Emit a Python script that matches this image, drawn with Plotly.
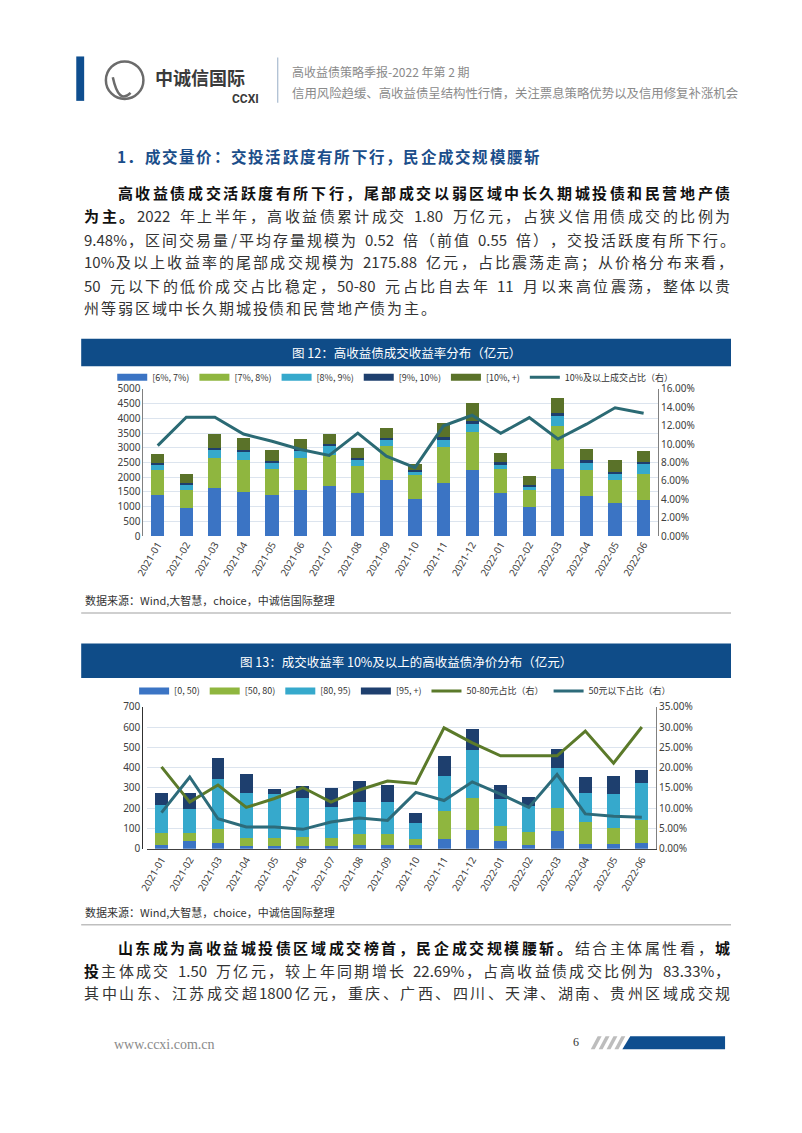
import plotly.graph_objects as go

W, H = 802, 1133
OFF = 8  # the page body keeps its default 8px margin, so the figure is drawn 8px up/left to compensate

months = ["2021-01", "2021-02", "2021-03", "2021-04", "2021-05", "2021-06", "2021-07", "2021-08", "2021-09",
          "2021-10", "2021-11", "2021-12", "2022-01", "2022-02", "2022-03", "2022-04", "2022-05", "2022-06"]

# Chart 12: trade volume by yield bucket (亿元)
c1_6_7 = [1380, 950, 1620, 1490, 1410, 1570, 1710, 1450, 1900, 1275, 1820, 2240, 1480, 975, 2270, 1365, 1140, 1210]
c1_7_8 = [860, 615, 1040, 1085, 885, 1070, 1040, 930, 1150, 785, 1200, 1285, 815, 590, 1455, 895, 760, 915]
c1_8_9 = [200, 170, 270, 270, 190, 260, 320, 190, 210, 145, 245, 280, 145, 110, 370, 225, 200, 315]
c1_9_10 = [60, 75, 70, 90, 65, 50, 60, 70, 70, 55, 90, 90, 65, 65, 100, 90, 90, 80]
c1_10p = [300, 290, 470, 415, 380, 360, 330, 350, 330, 180, 480, 615, 335, 290, 515, 370, 390, 380]
c1_share = [9.84, 12.92, 12.92, 11.10, 10.31, 9.41, 8.77, 11.20, 8.70, 7.45, 11.99, 13.14, 11.17, 12.89, 10.56, 12.17, 13.96, 13.35]

# Chart 13: clean-price distribution of >=10% yield trades (亿元)
c2_0_50 = [20, 40, 27, 16, 15, 15, 15, 19, 19, 19, 48, 95, 39, 19, 87, 26, 23, 27]
c2_50_80 = [56, 36, 73, 39, 37, 45, 37, 52, 52, 29, 138, 153, 72, 62, 115, 106, 80, 117]
c2_80_95 = [140, 121, 244, 219, 217, 192, 153, 161, 161, 78, 175, 239, 134, 132, 195, 145, 166, 179]
c2_95p = [58, 76, 103, 95, 28, 56, 95, 100, 83, 51, 94, 102, 70, 43, 95, 79, 92, 64]
c2_share_50_80 = [20.2, 11.5, 15.7, 10.2, 12.4, 15.1, 11.5, 14.5, 16.7, 16.1, 29.8, 26.1, 22.9, 22.9, 22.9, 29.0, 21.1, 30.0]
c2_share_0_50 = [8.9, 17.7, 7.4, 5.4, 5.4, 4.8, 6.6, 7.6, 7.0, 13.9, 11.9, 16.5, 13.5, 10.2, 18.3, 8.6, 8.0, 7.8]

c1_names = ["[6%, 7%)", "[7%, 8%)", "[8%, 9%)", "[9%, 10%)", "[10%, +)"]
c1_line_name = "10%及以上成交占比（右）"
c2_names = ["[0, 50)", "[50, 80)", "[80, 95)", "[95, +)"]
c2_line_names = ["50-80元占比（右）", "50元以下占比（右）"]

BLUE, GREEN, CYAN, NAVY, OLIVE = "#3B74C4", "#8FB63F", "#36A9CC", "#1E3F6E", "#5A7229"
TEAL = "#2B6A74"
TITLEBLUE = "#0F4C88"
GRID = "#DCE4EE"
CJK = "Noto Sans CJK SC"
LAT = "Noto Sans, Noto Sans CJK SC"

def px(x):
    return (x - OFF) / W

def py(y):
    return 1 - (y - OFF) / H

fig = go.Figure()

for vals, name, col in zip([c1_6_7, c1_7_8, c1_8_9, c1_9_10, c1_10p], c1_names, [BLUE, GREEN, CYAN, NAVY, OLIVE]):
    fig.add_trace(go.Bar(x=months, y=vals, name=name, marker=dict(color=col, line=dict(width=0)),
                         xaxis="x", yaxis="y", showlegend=False, legendgroup=name))
    fig.add_trace(go.Scatter(x=[None], y=[None], name=name, mode="lines", line=dict(color=col, width=7),
                             xaxis="x", yaxis="y", legend="legend", legendgroup=name))
fig.add_trace(go.Scatter(x=months, y=[v / 100 for v in c1_share], name=c1_line_name, mode="lines",
                         line=dict(color=TEAL, width=3), xaxis="x", yaxis="y2", legend="legend"))

for vals, name, col in zip([c2_0_50, c2_50_80, c2_80_95, c2_95p], c2_names, [BLUE, GREEN, CYAN, NAVY]):
    fig.add_trace(go.Bar(x=months, y=vals, name=name, marker=dict(color=col, line=dict(width=0)),
                         xaxis="x2", yaxis="y3", showlegend=False, legendgroup="b" + name))
    fig.add_trace(go.Scatter(x=[None], y=[None], name=name, mode="lines", line=dict(color=col, width=7),
                             xaxis="x2", yaxis="y3", legend="legend2", legendgroup="b" + name))
fig.add_trace(go.Scatter(x=months, y=[v / 100 for v in c2_share_50_80], name=c2_line_names[0], mode="lines",
                         line=dict(color="#5B7A2A", width=3), xaxis="x2", yaxis="y4", legend="legend2"))
fig.add_trace(go.Scatter(x=months, y=[v / 100 for v in c2_share_0_50], name=c2_line_names[1], mode="lines",
                         line=dict(color="#2D6B7A", width=3), xaxis="x2", yaxis="y4", legend="legend2"))

tickfont = dict(family=LAT, size=10, color="#404040")
xax = dict(type="category", tickangle=-60, tickfont=tickfont, showgrid=False, ticks="",
           zeroline=False, categoryorder="array", categoryarray=months)
fig.update_layout(
    width=W, height=H, margin=dict(l=0, r=0, t=0, b=0),
    paper_bgcolor="white", plot_bgcolor="white",
    barmode="stack", bargap=0.54,
    xaxis=dict(domain=[px(135), px(656)], anchor="y", showline=False, **xax),
    yaxis=dict(domain=[py(535), py(386)], range=[0, 5000], dtick=500, tickfont=tickfont,
               showgrid=True, gridcolor=GRID, showline=True, linecolor="#808080", zeroline=False, ticks=""),
    yaxis2=dict(overlaying="y", side="right", anchor="x", range=[0, 0.16], dtick=0.02, tickformat=".2%",
                tickfont=tickfont, showgrid=False, showline=True, linecolor="#808080", zeroline=False),
    xaxis2=dict(domain=[px(139), px(654)], anchor="y3", showline=True, linecolor="#404040", linewidth=1.2, **xax),
    yaxis3=dict(domain=[py(852), py(708)], range=[0, 700], dtick=100, tickfont=tickfont,
                showgrid=True, gridcolor=GRID, showline=True, linecolor="#303030", linewidth=1.2, zeroline=False),
    yaxis4=dict(overlaying="y3", side="right", anchor="x2", range=[0, 0.35], dtick=0.05, tickformat=".2%",
                tickfont=tickfont, showgrid=False, showline=True, linecolor="#808080", zeroline=False),
    legend=dict(orientation="h", x=px(390), xanchor="center", y=py(374), yanchor="middle",
                font=dict(family=CJK, size=9, color="#333333"), itemwidth=30, traceorder="normal",
                bgcolor="rgba(0,0,0,0)"),
    legend2=dict(orientation="h", x=px(400), xanchor="center", y=py(692), yanchor="middle",
                 font=dict(family=CJK, size=9, color="#333333"), itemwidth=30, traceorder="normal",
                 bgcolor="rgba(0,0,0,0)"),
)

shapes = []
ann = []

def rect(x0, y0, x1, y1, color, line=None):
    shapes.append(dict(type="rect", xref="paper", yref="paper", x0=px(x0), x1=px(x1), y0=py(y1), y1=py(y0),
                       fillcolor=color, line=dict(width=0) if line is None else line, layer="below"))

def hline(x0, x1, y, color, width=1):
    shapes.append(dict(type="line", xref="paper", yref="paper", x0=px(x0), x1=px(x1), y0=py(y), y1=py(y),
                       line=dict(color=color, width=width)))

def text(x, y, s, size=12, color="#333", family=CJK, xanchor="left", bold=False):
    ann.append(dict(xref="paper", yref="paper", x=px(x), y=py(y), text=("<b>%s</b>" % s) if bold else s,
                    showarrow=False, xanchor=xanchor, yanchor="middle",
                    font=dict(family=family, size=size, color=color), borderpad=0))

def cw(ch):
    o = ord(ch)
    if o > 0x2E80 or ch in "（），。；：、":
        return 1.0
    if ch.isdigit():
        return 0.56
    if ch in ".,":
        return 0.28
    if ch == "%":
        return 0.86
    if ch == "/":
        return 0.40
    if ch == "-":
        return 0.36
    if ch == " ":
        return 0.30
    return 0.55

def tokens(segs):
    out = []
    for s, b in segs:
        run = ""
        for ch in s:
            if ord(ch) < 128 and ch != " ":
                run += ch
                continue
            if run:
                out.append((run, b))
                run = ""
            out.append((ch, b))
        if run:
            out.append((run, b))
    return out

def line(segs, x0, y, x1=None, gap=None, size=15, color="#333333", bcolor="#111111"):
    toks = tokens(segs)
    widths = [sum(cw(c) for c in t) * size for t, _ in toks]
    if gap is None:
        gap = ((x1 - x0) - sum(widths)) / max(1, len(toks) - 1)
    x = x0
    for (t, b), w in zip(toks, widths):
        if t != " ":
            text(x, y, t, size=size, color=bcolor if b else color, bold=b)
        x += w + gap
    return gap

# ---------- header ----------
rect(67, 49, 75, 94, "#0E4E8F")
shapes.append(dict(type="circle", xref="paper", yref="paper", x0=px(97), x1=px(135), y0=py(92), y1=py(54),
                   line=dict(color="#6b6b6b", width=2.5)))
shapes.append(dict(type="path", xref="paper", yref="paper",
                   path="M %f %f Q %f %f %f %f" % (px(104), py(70), px(110), py(98), px(122), py(86)),
                   line=dict(color="#6b6b6b", width=2.5)))
text(146, 70, "中诚信国际", size=18, color="#3a3a3a", bold=True)
text(253, 92, "CCXI", size=12, color="#3a3a3a", xanchor="right", bold=True, family="Roboto")
shapes.append(dict(type="line", xref="paper", yref="paper", x0=px(271), x1=px(271), y0=py(50), y1=py(96),
                   line=dict(color="#A9BCD0", width=1.2)))
text(284, 64, "高收益债策略季报-2022 年第 2 期", size=12, color="#8a8a8a")
text(284, 86, "信用风险趋缓、高收益债呈结构性行情，关注票息策略优势以及信用修复补涨机会", size=12.4, color="#8a8a8a")

# ---------- heading & paragraph 1 ----------
line([("1．成交量价：交投活跃度有所下行，民企成交规模腰斩", True)], 107, 150, x1=535, size=15.5,
     bcolor="#1B4E8A")
line([("高收益债成交活跃度有所下行，尾部成交以弱区域中长久期城投债和民营地产债", True)], 108, 187, x1=728)
line([("为主。", True), ("2022 年上半年，高收益债累计成交 1.80 万亿元，占狭义信用债成交的比例为", False)], 74, 210, x1=728)
line([("9.48%，区间交易量/平均存量规模为 0.52 倍（前值 0.55 倍），交投活跃度有所下行。", False)], 74, 234, x1=733)
line([("10%及以上收益率的尾部成交规模为 2175.88 亿元，占比震荡走高；从价格分布来看，", False)], 74, 257, x1=731)
line([("50 元以下的低价成交占比稳定，50-80 元占比自去年 11 月以来高位震荡，整体以贵", False)], 74, 281, x1=728)
line([("州等弱区域中长久期城投债和民营地产债为主。", False)], 74, 303, x1=430)

# ---------- chart frames ----------
rect(72, 335, 730, 363, TITLEBLUE)
text(401, 349, "图 12：高收益债成交收益率分布（亿元）", size=12.5, color="white", xanchor="center")
text(75, 600, "数据来源：Wind,大智慧，choice，中诚信国际整理", size=11, color="#333333")
hline(72, 730, 613, "#BFBFBF", 1.5)

rect(72, 644, 730, 679, TITLEBLUE)
text(401, 662, "图 13：成交收益率 10%及以上的高收益债净价分布（亿元）", size=12.5, color="white", xanchor="center")
text(75, 916, "数据来源：Wind,大智慧，choice，中诚信国际整理", size=11, color="#333333")
hline(72, 730, 929, "#BFBFBF", 1.5)

# ---------- paragraph 2 ----------
line([("山东成为高收益城投债区域成交榜首，民企成交规模腰斩。", True), ("结合主体属性看，", False), ("城", True)],
     108, 952, x1=728)
line([("投", True), ("主体成交 1.50 万亿元，较上年同期增长 22.69%，占高收益债成交比例为 83.33%，", False)],
     74, 975, x1=728)
line([("其中山东、江苏成交超1800亿元，重庆、广西、四川、天津、湖南、贵州区域成交规", False)], 74, 998, x1=728)

# ---------- footer ----------
text(104, 1050, "www.ccxi.com.cn", size=14, color="#8a8a8a", family="Liberation Serif")
text(573, 1048, "6", size=12, color="#333333", family="Liberation Serif", xanchor="center")
for i in range(4):
    xs = 588 + i * 8
    shapes.append(dict(type="path", xref="paper", yref="paper",
                       path="M %f %f L %f %f L %f %f L %f %f Z" % (px(xs), py(1055), px(xs + 4), py(1055),
                                                                  px(xs + 11), py(1042), px(xs + 7), py(1042)),
                       fillcolor="#BDBDBD", line=dict(width=0)))
shapes.append(dict(type="path", xref="paper", yref="paper",
                   path="M %f %f L %f %f L %f %f L %f %f Z" % (px(620), py(1055), px(724), py(1055),
                                                              px(724), py(1042), px(628), py(1042)),
                   fillcolor="#0E4E8F", line=dict(width=0)))

fig.update_layout(shapes=shapes, annotations=ann)

fig.write_html("out.html", config={"displayModeBar": False})
